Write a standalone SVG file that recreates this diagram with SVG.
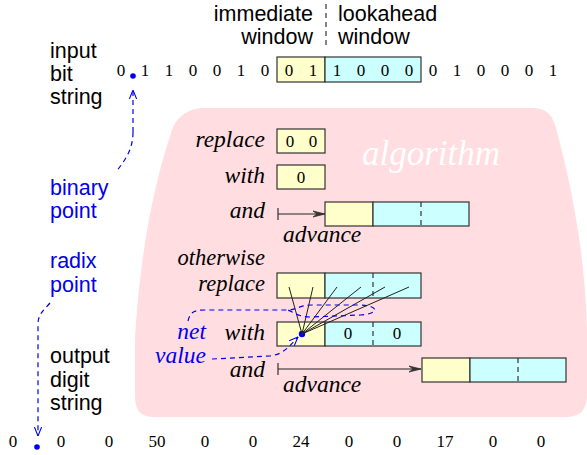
<svg xmlns="http://www.w3.org/2000/svg" width="587" height="455" viewBox="0 0 587 455">
<style>
.sans{font-family:"Liberation Sans",Arial,sans-serif;font-size:21.5px;fill:#000}
.dig{font-family:"Liberation Serif","Times New Roman",serif;font-size:17px;fill:#000;text-anchor:middle}
.it{font-family:"Liberation Serif","Times New Roman",serif;font-style:italic;font-size:23.5px;fill:#000}
.it2{font-family:"Liberation Serif","Times New Roman",serif;font-style:italic;font-size:22.5px;fill:#000}
.end{text-anchor:end}
.blue{fill:#0000ee}
.y{fill:#ffffcc;stroke:#333;stroke-width:1.2}
.c{fill:#ccffff;stroke:#333;stroke-width:1.2}
.dv{stroke:#333;stroke-width:1.2;stroke-dasharray:5 4;fill:none}
.bd{stroke:#0000ee;stroke-width:1.2;stroke-dasharray:5 4;fill:none}
.ln{stroke:#222;stroke-width:1;fill:none}
</style>
<defs>
<marker id="vb" viewBox="0 0 10 10" refX="10" refY="5" markerWidth="9" markerHeight="9" orient="auto" markerUnits="userSpaceOnUse"><path d="M0,1 L10,5 L0,9" fill="none" stroke="#0000ee" stroke-width="1.2"/></marker>
<marker id="va" viewBox="0 0 12 10" refX="12" refY="5" markerWidth="12" markerHeight="10" orient="auto" markerUnits="userSpaceOnUse"><path d="M0,2 L12,5 L0,8 L4,5 Z" fill="#333" stroke="#333" stroke-width="0.8"/></marker>
</defs>

<path id="algorithm-area" d="M205 108 L530 108 C548 108 552 115 556 128 C570 180 585 250 587 330 L587 395 C587 410 580 417 565 417 L155 417 C140 417 135 410 135 395 L135 340 C140 250 155 180 172 130 C177 115 190 108 205 108 Z" fill="#ffdde0"/>
<text x="362" y="165" font-family="Liberation Serif,'Times New Roman',serif" font-style="italic" font-size="35" fill="#ffffff">algorithm</text>

<g id="window-labels">
<text class="sans end" x="313" y="21">immediate</text>
<text class="sans end" x="313" y="44">window</text>
<text class="sans" x="338" y="21">lookahead</text>
<text class="sans" x="338" y="44">window</text>
<line class="dv" x1="326" y1="4" x2="326" y2="48"/>
</g>

<g id="input-label">
<text class="sans" x="50" y="58">input</text>
<text class="sans" x="50" y="81">bit</text>
<text class="sans" x="50" y="104">string</text>
</g>

<g id="input-string">
<rect class="y" x="277" y="57" width="48" height="25"/>
<rect class="c" x="325" y="57" width="96" height="25"/>
<text class="dig" y="76"><tspan x="121">0</tspan><tspan x="145">1</tspan><tspan x="169">1</tspan><tspan x="193">0</tspan><tspan x="217">0</tspan><tspan x="241">1</tspan><tspan x="265">0</tspan><tspan x="289">0</tspan><tspan x="313">1</tspan><tspan x="337">1</tspan><tspan x="361">0</tspan><tspan x="385">0</tspan><tspan x="409">0</tspan><tspan x="433">0</tspan><tspan x="457">1</tspan><tspan x="481">0</tspan><tspan x="505">0</tspan><tspan x="529">0</tspan><tspan x="553">1</tspan></text>
<circle cx="133" cy="76" r="2.8" fill="#0000ee"/>
</g>

<g id="binary-point">
<text class="sans blue" x="50" y="195">binary</text>
<text class="sans blue" x="50" y="218">point</text>
</g>
<g id="radix-point">
<text class="sans blue" x="50" y="268">radix</text>
<text class="sans blue" x="50" y="292">point</text>
</g>
<g id="output-label">
<text class="sans" x="50" y="363">output</text>
<text class="sans" x="50" y="387">digit</text>
<text class="sans" x="50" y="410">string</text>
</g>

<g id="output-string">
<text class="dig" y="447"><tspan x="13">0</tspan><tspan x="61">0</tspan><tspan x="109">0</tspan><tspan x="157">50</tspan><tspan x="205">0</tspan><tspan x="253">0</tspan><tspan x="301">24</tspan><tspan x="349">0</tspan><tspan x="397">0</tspan><tspan x="445">17</tspan><tspan x="493">0</tspan><tspan x="541">0</tspan></text>
<circle cx="37" cy="447" r="2.8" fill="#0000ee"/>
</g>

<g id="rule1">
<text class="it end" x="265" y="147">replace</text>
<rect class="y" x="277" y="129" width="48" height="24"/>
<text class="dig" y="147"><tspan x="290">0</tspan><tspan x="313">0</tspan></text>
<text class="it end" x="265" y="183">with</text>
<rect class="y" x="277" y="165" width="48" height="24"/>
<text class="dig" x="301" y="183">0</text>
<text class="it end" x="265" y="218">and</text>
<rect class="y" x="325" y="202" width="48" height="24"/>
<rect class="c" x="373" y="202" width="96" height="24"/>
<line class="dv" x1="421" y1="202" x2="421" y2="226"/>
<text class="it" x="283" y="242">advance</text>
</g>

<g id="rule2">
<text class="it2 end" x="265" y="265">otherwise</text>
<text class="it2 end" x="265" y="291">replace</text>
<rect class="y" x="277" y="273" width="48" height="25"/>
<rect class="c" x="325" y="273" width="96" height="25"/>
<line class="dv" x1="373" y1="273" x2="373" y2="298"/>
<text class="it end" x="265" y="340">with</text>
<rect class="y" x="277" y="322" width="48" height="24"/>
<rect class="c" x="325" y="322" width="96" height="24"/>
<line class="dv" x1="373" y1="322" x2="373" y2="346"/>
<text class="dig" y="339"><tspan x="348">0</tspan><tspan x="397">0</tspan></text>
<text class="it end" x="265" y="377">and</text>
<rect class="y" x="422" y="358" width="48" height="24"/>
<rect class="c" x="470" y="358" width="96" height="24"/>
<line class="dv" x1="518" y1="358" x2="518" y2="382"/>
<text class="it" x="283" y="392">advance</text>
</g>

<g id="net-value">
<text class="it end" style="fill:#0000ee" x="206" y="339">net</text>
<text class="it end" style="fill:#0000ee" x="206" y="363">value</text>
<circle cx="302" cy="334" r="3.2" fill="#0000ee"/>
</g>

<g id="connectors">
<path class="bd" d="M133 132 C133 150 125 160 116 172" />
<path class="bd" d="M133 132 L133 90" marker-end="url(#vb)"/>
<path class="bd" d="M50 303 C44 310 38 314 38 324 L38 436" marker-end="url(#vb)"/>
<g class="ln">
<line x1="302" y1="334" x2="289" y2="287"/>
<line x1="302" y1="334" x2="313" y2="287"/>
<line x1="302" y1="334" x2="337" y2="287"/>
<line x1="302" y1="334" x2="361" y2="287"/>
<line x1="302" y1="334" x2="385" y2="287"/>
<line x1="302" y1="334" x2="409" y2="287"/>
</g>
<path class="bd" d="M188 321 C190 312 194 310 205 310 L288 310 C296 310 300 305 312 305 L358 305 C380 305 380 314 360 315 L310 317 C300 317 294 313 288 310"/>
<path class="bd" d="M212 359 L270 356 C285 354 290 345 298 337" marker-end="url(#vb)"/>
<path class="ln" d="M278 214 L325 214" stroke="#333" marker-end="url(#va)"/>
<path d="M278 208 L278 220" stroke="#333" stroke-width="1.2"/>
<path class="ln" d="M278 369 L421 369" stroke="#333" marker-end="url(#va)"/>
<path d="M278 363 L278 375" stroke="#333" stroke-width="1.2"/>
</g>
</svg>
